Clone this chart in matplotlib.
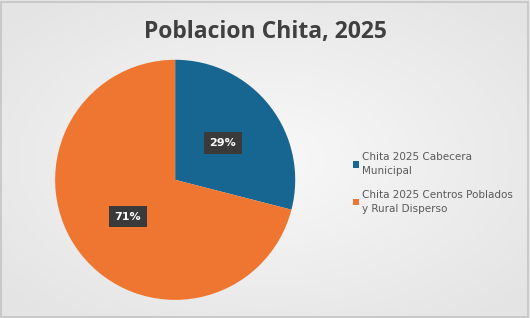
import numpy as np
import matplotlib
matplotlib.use("Agg")
import matplotlib.pyplot as plt

# data
labels = ["Chita 2025 Cabecera\nMunicipal", "Chita 2025 Centros Poblados\ny Rural Disperso"]
values = [29, 71]
colors = ["#176591", "#ef7630"]

fig = plt.figure(figsize=(5.3, 3.18), dpi=100)

# background: light gray with softer center
bg = fig.add_axes([0, 0, 1, 1])
yy, xx = np.mgrid[-1:1:200j, -1:1:300j]
r = np.clip(np.sqrt(xx ** 2 + yy ** 2) / 1.3, 0, 1)
shade = 0.975 - 0.08 * r
img = np.dstack([shade, shade, shade])
bg.imshow(img, extent=[0, 1, 0, 1], aspect="auto")
bg.add_patch(plt.Rectangle((0.002, 0.004), 0.995, 0.99, fill=False, ec="#c4c4c4", lw=1.2))
bg.set_xlim(0, 1)
bg.set_ylim(0, 1)
bg.axis("off")

ax = fig.add_axes([0.104, 0.057, 0.453, 0.755])
wedges, texts, autotexts = ax.pie(values, colors=colors, startangle=90, counterclock=False,
                                  autopct="%1.0f%%", pctdistance=0.5,
                                  wedgeprops=dict(linewidth=0))
for t in autotexts:
    t.set_color("white")
    t.set_fontsize(8)
    t.set_fontweight("bold")
    t.set_bbox(dict(boxstyle="square,pad=0.5", fc="#3a3a3a", ec="none"))
ax.set_xlim(-1, 1)
ax.set_ylim(-1, 1)
ax.set_aspect("equal")

fig.text(0.5, 0.9, "Poblacion Chita, 2025", ha="center", va="center",
         fontsize=16.5, fontweight="bold", color="#404040", family="Open Sans")

leg = fig.legend(wedges, labels, loc="center left", bbox_to_anchor=(0.648, 0.425),
                 frameon=False, fontsize=7.5, labelcolor="#595959",
                 handlelength=0.6, handleheight=0.6, handletextpad=0.3,
                 labelspacing=1.3)
for t in leg.get_texts():
    t.set_linespacing(1.5)

fig.savefig("out.png", dpi=100)
